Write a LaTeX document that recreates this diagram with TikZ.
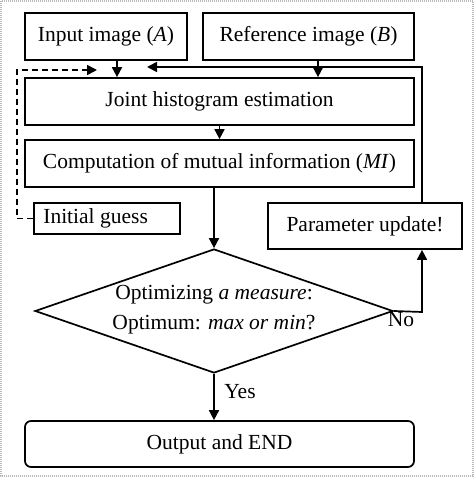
\documentclass[tikz,border=0pt]{standalone}
\usepackage{fontspec}
\setmainfont{Liberation Serif}
\usetikzlibrary{arrows.meta,shapes.geometric,calc}
\begin{document}
\begin{tikzpicture}[x=1pt,y=-1pt,
  box/.style={draw,line width=1.7pt,inner sep=0pt,font=\fontsize{21.5}{25}\selectfont},
  lbl/.style={inner sep=0pt,font=\fontsize{21.5}{25}\selectfont},
  arr/.style={line width=1.7pt,-{Triangle[length=10pt,width=10pt]}},
  dsh/.style={line width=1.7pt,dash pattern=on 6pt off 4pt,-{Triangle[length=10pt,width=10pt]}}]
\useasboundingbox (0,0) rectangle (474,478);
\draw[gray!55,line width=2pt,dash pattern=on 1pt off 1pt] (1,1) rectangle (473,476);
% boxes
\node[box,minimum width=162pt,minimum height=47pt] (inA) at (106,36.5) {Input image (\textit{A})};
\node[box,minimum width=211pt,minimum height=47pt] (refB) at (308.5,36.5) {Reference image (\textit{B})};
\node[box,minimum width=389pt,minimum height=47pt] (joint) at (219.5,101.5) {Joint histogram estimation};
\node[box,minimum width=389pt,minimum height=47pt] (comp) at (219.5,163.5) {Computation of mutual information (\textit{MI})};
\node[box,minimum width=146pt,minimum height=31pt] (init) at (107,218.5) {};
\node[lbl,anchor=west] (initT) at ([xshift=10pt]init.west) {Initial guess};
\node[box,minimum width=194pt,minimum height=46pt] (param) at (365,226) {Parameter update!};
\node[draw,line width=1.7pt,diamond,minimum width=358pt,minimum height=124pt,inner sep=0pt] (dia) at (214,311) {};
\node[lbl,align=center] (diaT) at (214,310) {Optimizing \textit{a measure}:\\[5pt]Optimum: \textit{max or min}?};
\node[box,rounded corners=6pt,minimum width=389pt,minimum height=46pt] (out) at (219.5,444) {Output and END};
% coordinates
\coordinate (fbEnd) at (147,67);
\coordinate (dsEnd) at (97,70);
\coordinate (dsCorner) at (17,70);
\coordinate (loopX) at (422,312);
% connectors
\draw[arr] ([xshift=11pt]inA.south) -- ([xshift=11pt]inA.south |- joint.north);
\draw[arr] ([xshift=9.5pt]refB.south) -- ([xshift=9.5pt]refB.south |- joint.north);
\draw[arr] ([xshift=57pt]param.north) -- ([xshift=57pt]param.north |- fbEnd) -- (fbEnd);
\draw[dsh] (init.west) -| (dsCorner) -- (dsEnd);
\draw[arr] (joint.south) -- (comp.north);
\draw[arr] (dia.north |- comp.south) -- (dia.north);
\draw[arr] (dia.east) -- (loopX) -- (loopX |- param.south);
\draw[arr] (dia.south) -- (dia.south |- out.north);
\node[lbl] (no) at (401,320) {No};
\node[lbl] (yes) at (240,392) {Yes};
\end{tikzpicture}
\end{document}
